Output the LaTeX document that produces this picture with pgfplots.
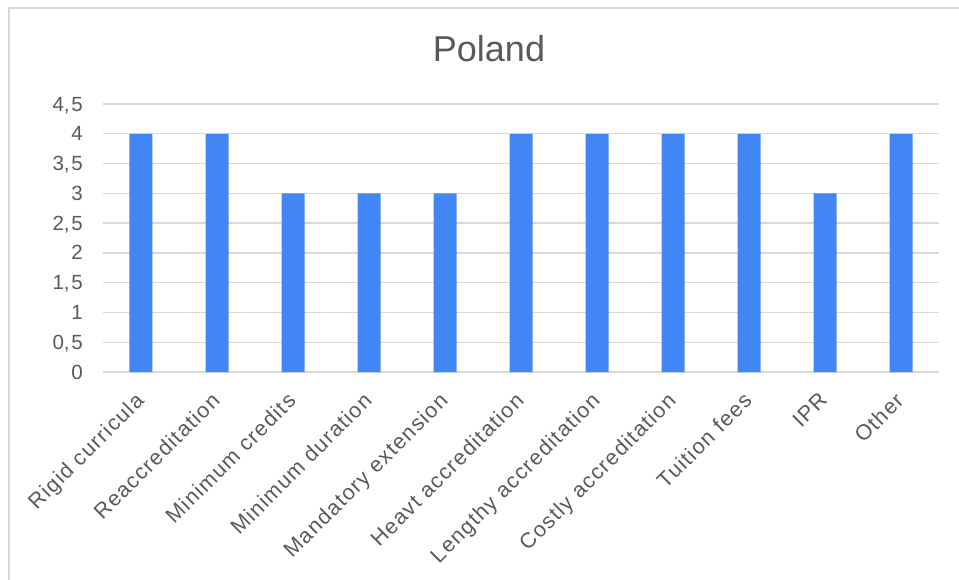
\documentclass[border=0pt]{standalone}
\usepackage{fontspec}
\setmainfont{Liberation Sans}
\usepackage{pgfplots}
\pgfplotsset{compat=1.18}
\definecolor{barblue}{HTML}{4285F4}
\definecolor{txtgray}{HTML}{595959}
\definecolor{gridgray}{HTML}{D9D9D9}
\begin{document}
\begin{tikzpicture}[x=1pt,y=1pt]
\useasboundingbox (0,0) rectangle (959,579);
\draw[gridgray, line width=1.5pt] (9,-10) -- (9,571) -- (975,571);
\node[anchor=base, text=txtgray, font=\fontsize{36}{40}\selectfont] at (489,517) {Poland};
\begin{axis}[
  at={(103pt,207pt)}, anchor=south west,
  scale only axis, width=836pt, height=268pt,
  xmin=-0.5, xmax=10.5, ymin=0, ymax=4.5,
  axis line style={draw=none},
  major tick length=0pt,
  ymajorgrids, grid style={gridgray, line width=1.4pt},
  ytick={0,0.5,1,1.5,2,2.5,3,3.5,4,4.5},
  yticklabels={0,{0,\kern1.8pt5},1,{1,\kern1.8pt5},2,{2,\kern1.8pt5},3,{3,\kern1.8pt5},4,{4,\kern1.8pt5}},
  yticklabel style={anchor=base east, inner sep=0pt, xshift=-20pt, yshift=-7pt,
    text=txtgray, font=\fontsize{20.5}{22}\selectfont},
  xtick=data,
  xticklabels={Rigid curricula,Reaccreditation,Minimum credits,Minimum duration,Mandatory extension,Heavt accreditation,Lengthy accreditation,Costly accreditation,Tuition fees,IPR,Other},
  xticklabel style={xshift=-7pt, yshift=-19pt, rotate=45, anchor=north east, inner sep=0pt,
    text=txtgray, font=\fontsize{21.5}{23}\selectfont\addfontfeatures{LetterSpace=6}},
  clip=false,
]
\addplot[ybar, fill=barblue, draw=none, bar width=23pt, bar shift=0pt]
  coordinates {(0,4) (1,4) (2,3) (3,3) (4,3) (5,4) (6,4) (7,4) (8,4) (9,3) (10,4)};
\end{axis}
\end{tikzpicture}
\end{document}
